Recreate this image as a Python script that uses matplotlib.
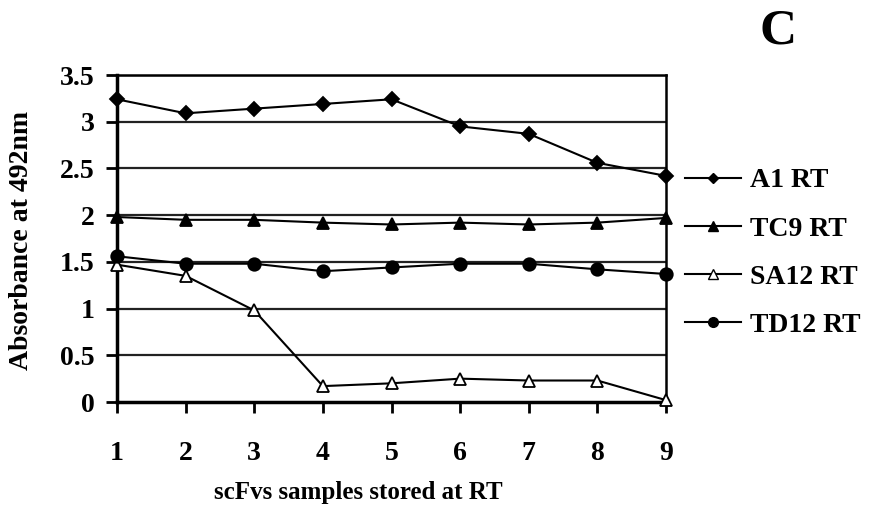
import matplotlib
matplotlib.use("Agg")
import matplotlib.pyplot as plt
from matplotlib.lines import Line2D

samples = [1, 2, 3, 4, 5, 6, 7, 8, 9]
a1_rt = [3.24, 3.09, 3.14, 3.19, 3.24, 2.95, 2.87, 2.56, 2.42]
tc9_rt = [1.98, 1.95, 1.95, 1.92, 1.90, 1.92, 1.90, 1.92, 1.97]
sa12_rt = [1.47, 1.35, 0.98, 0.17, 0.20, 0.25, 0.23, 0.23, 0.02]
td12_rt = [1.56, 1.48, 1.48, 1.40, 1.44, 1.48, 1.48, 1.42, 1.37]
series_names = ["A1 RT", "TC9 RT", "SA12 RT", "TD12 RT"]
yticks = [0, 0.5, 1, 1.5, 2, 2.5, 3, 3.5]
ytick_labels = ["0", "0.5", "1", "1.5", "2", "2.5", "3", "3.5"]

plt.rcParams['font.family'] = ['Liberation Serif', 'DejaVu Serif']
plt.rcParams['font.weight'] = 'bold'

fig = plt.figure(figsize=(8.71, 5.07), dpi=100)
ax = fig.add_axes([117/871, 1-402/507, (666-117)/871, (402-75)/507])

for yv in yticks[1:]:
    ax.axhline(yv, color='#222222', lw=1.6, zorder=1)

styles = [
    dict(marker='D', markersize=7, markerfacecolor='black'),
    dict(marker='^', markersize=9, markerfacecolor='black'),
    dict(marker='^', markersize=9, markerfacecolor='white'),
    dict(marker='o', markersize=9, markerfacecolor='black'),
]
data = [a1_rt, tc9_rt, sa12_rt, td12_rt]
for vals, st in zip(data, styles):
    ax.plot(samples, vals, color='black', lw=1.5, markeredgecolor='black',
            markeredgewidth=1.3, zorder=3, clip_on=False, **st)

ax.set_xlim(1, 9)
ax.set_ylim(0, 3.5)
ax.set_xticks(samples)
ax.set_xticklabels([str(s) for s in samples], fontsize=20, fontweight='bold')
ax.set_yticks(yticks)
ax.set_yticklabels(ytick_labels, fontsize=20, fontweight='bold')
ax.tick_params(axis='x', direction='out', length=8, width=2, pad=20)
ax.tick_params(axis='y', direction='out', length=8, width=2, pad=8)

for side in ['left', 'bottom']:
    ax.spines[side].set_linewidth(2.5)
ax.spines['right'].set_linewidth(1.8)
ax.spines['top'].set_linewidth(1.8)

fig.text(22/871, 1-240/507, "Absorbance at 492nm", fontsize=20, fontweight='bold',
         rotation=90, ha='center', va='center')
fig.text(358/871, 1-493/507, "scFvs samples stored at RT", fontsize=18,
         fontweight='bold', ha='center', va='center')

handles = [Line2D([0], [0], color='black', lw=1.5, markeredgecolor='black',
                  markeredgewidth=1.0, **dict(st, markersize=st['markersize'] - 2))
           for st in styles]
leg = fig.legend(handles, series_names, loc='upper left',
                 bbox_to_anchor=(660/871, 1-143/507), frameon=False,
                 prop=dict(family='Liberation Serif', weight='bold', size=20),
                 handlelength=2.0, labelspacing=0.82, handletextpad=0.35)

fig.text(778/871, 1-32/507, "C", fontsize=37, fontweight='bold',
         ha='center', va='center')

fig.savefig("out.png", dpi=100)
